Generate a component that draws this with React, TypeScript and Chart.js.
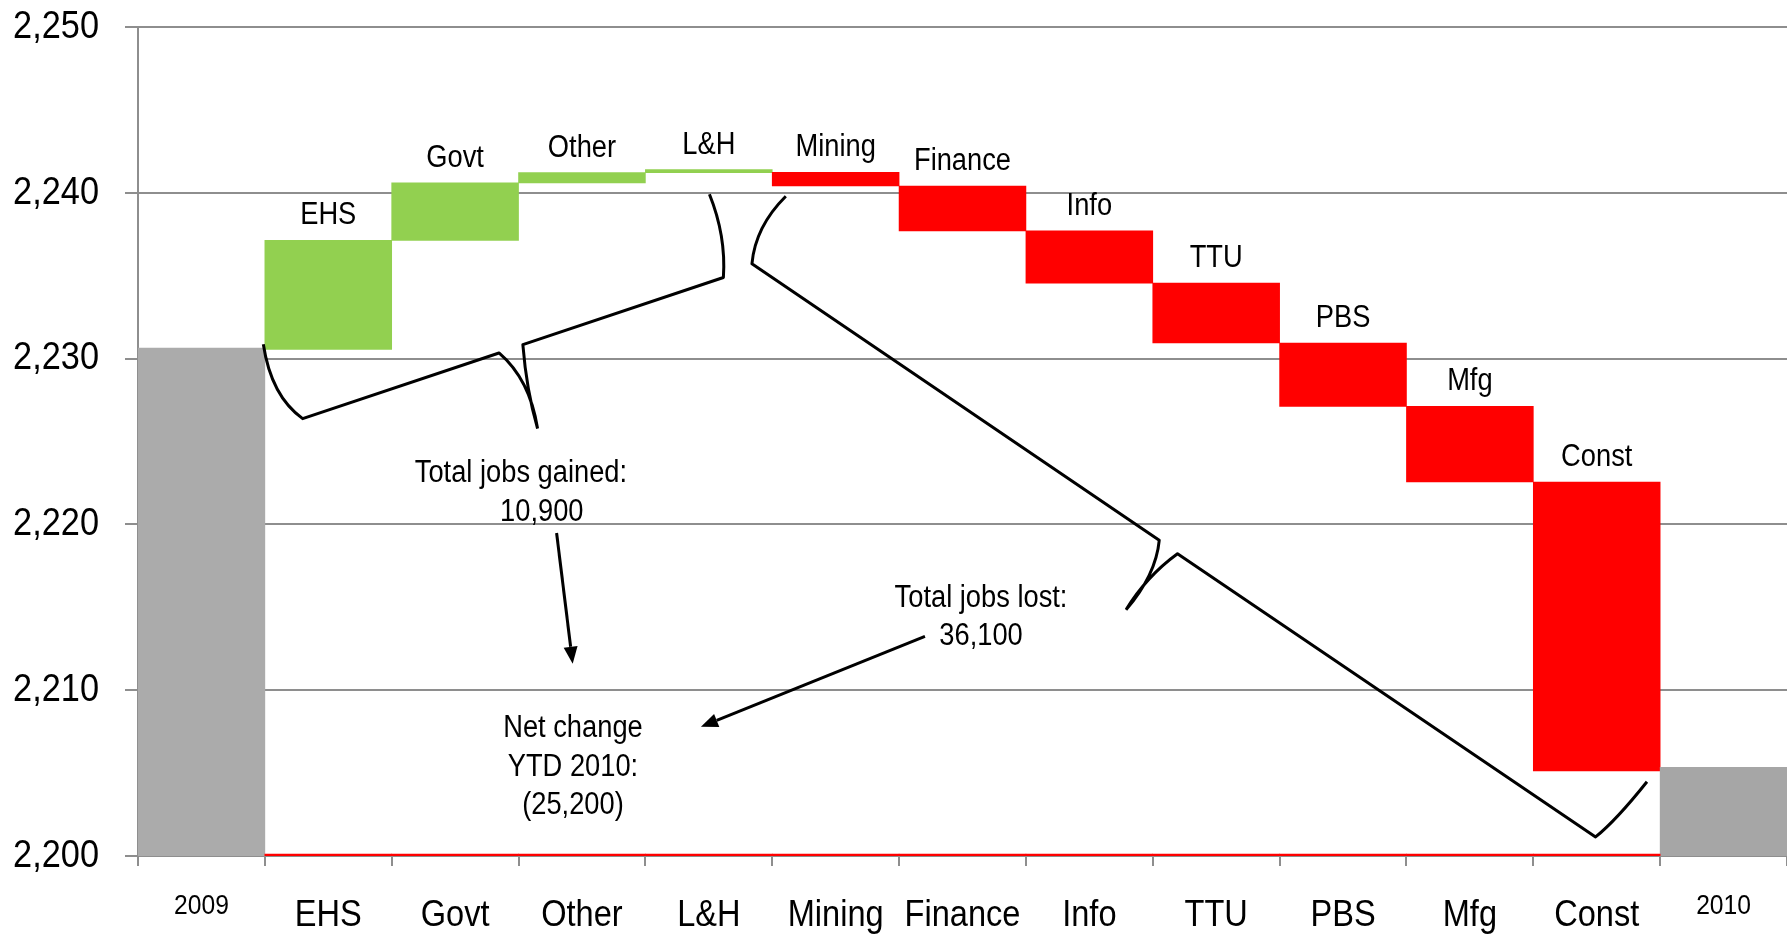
import React, { useEffect, useRef } from 'react';
import { Chart, registerables } from 'chart.js';

Chart.register(...registerables);

// ---- data ----
const categories = ['2009', 'EHS', 'Govt', 'Other', 'L&H', 'Mining', 'Finance', 'Info', 'TTU', 'PBS', 'Mfg', 'Const', '2010'];
const barLow = [2200, 2230.55, 2237.13, 2240.6, 2241.22, 2240.41, 2237.7, 2234.55, 2230.94, 2227.12, 2222.56, 2205.13, 2200];
const barHigh = [2230.64, 2237.13, 2240.6, 2241.22, 2241.4, 2241.24, 2240.4, 2237.7, 2234.55, 2230.94, 2227.12, 2222.56, 2205.35];
const barKind = ['total', 'gain', 'gain', 'gain', 'gain', 'loss', 'loss', 'loss', 'loss', 'loss', 'loss', 'loss', 'total2'];
const baseLineTop = [null, 2200.12, 2200.12, 2200.12, 2200.12, 2200.12, 2200.12, 2200.12, 2200.12, 2200.12, 2200.12, 2200.12, null];
const yTicks = [2200, 2210, 2220, 2230, 2240, 2250];

// annotation anchors: [category index, value]
const gainBrace: [number, number][] = [
  [0.488, 2230.86], [0.798, 2226.38], [2.346, 2230.34], [2.65, 2225.78], [2.534, 2230.84], [4.115, 2234.89], [4.005, 2239.91],
];
const lossBrace: [number, number][] = [
  [4.607, 2239.79], [4.34, 2235.72], [7.551, 2219.04], [7.289, 2214.85], [7.695, 2218.23], [10.991, 2201.15], [11.396, 2204.48],
];
const noteTexts: { text: string; at: [number, number] }[] = [
  { text: 'Total jobs gained:', at: [2.519, 2223.05] },
  { text: '10,900', at: [2.683, 2220.73] },
  { text: 'Total jobs lost:', at: [6.146, 2215.54] },
  { text: '36,100', at: [6.146, 2213.22] },
  { text: 'Net change', at: [2.929, 2207.7] },
  { text: 'YTD 2010:', at: [2.929, 2205.35] },
  { text: '(25,200)', at: [2.929, 2203.02] },
];
const arrows: { from: [number, number]; to: [number, number] }[] = [
  { from: [2.8, 2219.48], to: [2.927, 2211.6] },
  { from: [5.704, 2213.25], to: [3.938, 2207.79] },
];

// ---- styles ----
const FONT = "'Liberation Sans', Arial, sans-serif";
const NARROW = 0.88; // horizontal squeeze to imitate a narrow face
const COLORS: Record<string, string> = { total: '#ABABAB', total2: '#A6A6A6', gain: '#92D050', loss: '#FF0000' };
const GRID = '#8E8E8E';

type Pt = [number, number];

function narrowText(ctx: any) {
  if (ctx.__narrowed) return;
  ctx.__narrowed = true;
  const orig = ctx.fillText;
  ctx.fillText = function (text: string, x: number, y: number, maxWidth?: number) {
    this.save();
    this.translate(x, y);
    this.scale(NARROW, 1);
    if (maxWidth === undefined) orig.call(this, text, 0, 0);
    else orig.call(this, text, 0, 0, maxWidth / NARROW);
    this.restore();
  };
}

function drawBrace(ctx: CanvasRenderingContext2D, p: Pt[], f: [number, number][]) {
  const [S, C1, M, T, R, C2, E] = p;
  const q = (a: Pt, b: Pt, k: [number, number]) => {
    const cx = a[0] + k[0] * (b[0] - a[0]);
    const cy = a[1] + k[1] * (b[1] - a[1]);
    ctx.quadraticCurveTo(cx, cy, b[0], b[1]);
  };
  ctx.beginPath();
  ctx.moveTo(S[0], S[1]);
  q(S, C1, f[0]);
  ctx.lineTo(M[0], M[1]);
  q(M, T, f[1]);
  ctx.moveTo(T[0], T[1]);
  q(T, R, f[2]);
  ctx.lineTo(C2[0], C2[1]);
  q(C2, E, f[3]);
  ctx.stroke();
}

const annotationPlugin = {
  id: 'waterfallNotes',
  afterDatasetsDraw(chart: any) {
    const { ctx, scales } = chart;
    const xs = scales.x;
    const ys = scales.y;
    const P = (a: [number, number]): Pt => [xs.getPixelForValue(a[0]), ys.getPixelForValue(a[1])];
    ctx.save();
    // bar labels
    ctx.fillStyle = '#000';
    ctx.font = `31px ${FONT}`;
    ctx.textAlign = 'center';
    ctx.textBaseline = 'alphabetic';
    for (let i = 1; i < categories.length - 1; i++) {
      const x = xs.getPixelForValue(i);
      const y = ys.getPixelForValue(barHigh[i]);
      ctx.fillText(categories[i], x, y - 16);
    }
    // braces
    ctx.strokeStyle = '#000';
    ctx.lineWidth = 3;
    ctx.lineJoin = 'round';
    ctx.lineCap = 'butt';
    drawBrace(ctx, gainBrace.map(P), [[0.2, 0.7], [0.8, 0.35], [0.75, 0.45], [-0.2, 0.5]]);
    drawBrace(ctx, lossBrace.map(P), [[0.9, 0.45], [0.1, 0.5], [0.4, 0.6], [0.4, 0.3]]);
    // arrows
    for (const a of arrows) {
      const A = P(a.from);
      const B = P(a.to);
      const ang = Math.atan2(B[1] - A[1], B[0] - A[0]);
      const L = 17;
      const W = 7;
      const bx = B[0] - L * Math.cos(ang);
      const by = B[1] - L * Math.sin(ang);
      ctx.beginPath();
      ctx.moveTo(A[0], A[1]);
      ctx.lineTo(bx, by);
      ctx.stroke();
      ctx.beginPath();
      ctx.moveTo(B[0], B[1]);
      ctx.lineTo(bx + W * Math.sin(ang), by - W * Math.cos(ang));
      ctx.lineTo(bx - W * Math.sin(ang), by + W * Math.cos(ang));
      ctx.closePath();
      ctx.fillStyle = '#000';
      ctx.fill();
    }
    // texts
    ctx.fillStyle = '#000';
    ctx.font = `31px ${FONT}`;
    ctx.textAlign = 'center';
    ctx.textBaseline = 'middle';
    for (const t of noteTexts) {
      const p = P(t.at);
      ctx.fillText(t.text, p[0], p[1]);
    }
    ctx.restore();
  },
};

export default function App() {
  const ref = useRef<HTMLCanvasElement | null>(null);
  useEffect(() => {
    document.body.style.margin = '0';
    const canvas = ref.current;
    if (!canvas) return;
    const c2d = canvas.getContext('2d');
    if (c2d) narrowText(c2d);
    const chart = new Chart(canvas, {
      type: 'bar',
      data: {
        labels: categories,
        datasets: [
          {
            label: 'base',
            data: baseLineTop.map((v) => (v === null ? null : [2200, v])) as any,
            backgroundColor: '#FF0000',
            borderWidth: 0,
            barPercentage: 1,
            categoryPercentage: 1,
            grouped: false,
            order: 0,
          } as any,
          {
            label: 'change',
            data: barLow.map((lo, i) => [lo, barHigh[i]]) as any,
            backgroundColor: barKind.map((k) => COLORS[k]),
            borderWidth: 0,
            barPercentage: 1,
            categoryPercentage: 1,
            grouped: false,
            order: 1,
          } as any,
        ],
      },
      options: {
        responsive: false,
        animation: false,
        layout: { padding: { top: 27, right: 0, left: 0, bottom: 0 } },
        plugins: { legend: { display: false }, tooltip: { enabled: false } },
        scales: {
          x: {
            grid: { display: true, drawOnChartArea: false, drawTicks: true, tickLength: 10, color: GRID, lineWidth: 2, offset: true },
            border: { display: true, color: GRID, width: 2 },
            ticks: {
              color: '#000',
              padding: 28,
              maxRotation: 0,
              autoSkip: false,
              font: (c: any) => {
                const edge = c.index === 0 || c.index === categories.length - 1;
                return { family: FONT, size: edge ? 28 : 37, lineHeight: edge ? 0.86 : 1.2 };
              },
            },
            afterFit: (s: any) => {
              s.height = 80;
              s.paddingLeft = 0;
              s.paddingRight = 0;
            },
          },
          y: {
            min: yTicks[0],
            max: yTicks[yTicks.length - 1],
            afterBuildTicks: (s: any) => {
              s.ticks = yTicks.map((v) => ({ value: v }));
            },
            grid: { color: GRID, lineWidth: 2, tickLength: 13 },
            border: { color: GRID, width: 2 },
            ticks: {
              color: '#000',
              padding: 26,
              font: { family: FONT, size: 39 },
              callback: (v: any) => Number(v).toLocaleString('en-US'),
            },
            afterFit: (s: any) => {
              s.width = 138;
              s.paddingTop = 0;
              s.paddingBottom = 0;
            },
          },
        },
      },
      plugins: [annotationPlugin],
    });
    return () => chart.destroy();
  }, []);
  return <canvas ref={ref} width={1787} height={936} style={{ display: 'block' }} />;
}
